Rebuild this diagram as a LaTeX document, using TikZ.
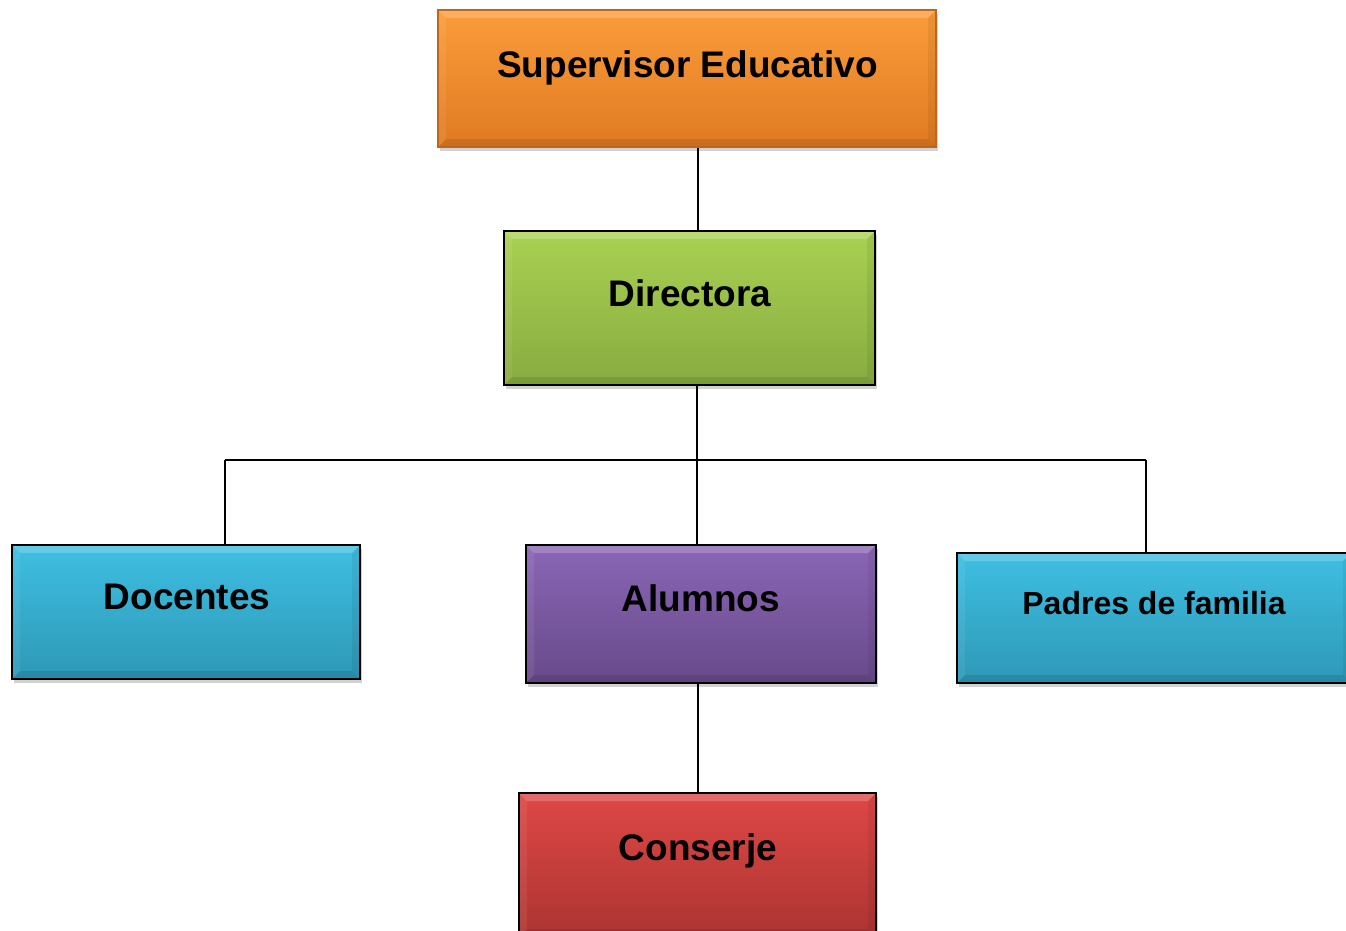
\documentclass[tikz,border=0pt]{standalone}
\usepackage{fontspec}
\setmainfont{Liberation Sans}
\usetikzlibrary{shadows}
\definecolor{orT}{HTML}{FA9C3A}\definecolor{orB}{HTML}{E07A22}\definecolor{orD}{HTML}{C0651C}
\definecolor{grT}{HTML}{A9D152}\definecolor{grB}{HTML}{88AB40}
\definecolor{cyT}{HTML}{3EBFE2}\definecolor{cyB}{HTML}{2E98B6}
\definecolor{puT}{HTML}{8A66B6}\definecolor{puB}{HTML}{684A8A}
\definecolor{reT}{HTML}{DE4846}\definecolor{reB}{HTML}{AC3431}
\tikzset{
  box/.style={rectangle, draw=black, line width=2.4pt, inner sep=0pt,
    drop shadow={opacity=0.35, shadow xshift=2pt, shadow yshift=-4pt},
    path picture={
      \fill[white,opacity=0.2] (path picture bounding box.north west) -- (path picture bounding box.north east)
        -- ([xshift=-8pt,yshift=-8pt]path picture bounding box.north east) -- ([xshift=8pt,yshift=-8pt]path picture bounding box.north west) -- cycle;
      \fill[black,opacity=0.1] (path picture bounding box.south west) -- (path picture bounding box.south east)
        -- ([xshift=-8pt,yshift=8pt]path picture bounding box.south east) -- ([xshift=8pt,yshift=8pt]path picture bounding box.south west) -- cycle;
      \fill[white,opacity=0.07] (path picture bounding box.north west) -- ([xshift=8pt,yshift=-8pt]path picture bounding box.north west)
        -- ([xshift=8pt,yshift=8pt]path picture bounding box.south west) -- (path picture bounding box.south west) -- cycle;
      \fill[black,opacity=0.06] (path picture bounding box.north east) -- ([xshift=-8pt,yshift=-8pt]path picture bounding box.north east)
        -- ([xshift=-8pt,yshift=8pt]path picture bounding box.south east) -- (path picture bounding box.south east) -- cycle;
    }},
  lbl/.style={anchor=base, inner sep=0pt, font=\bfseries\fontsize{37}{44}\selectfont},
  conn/.style={draw=black, line width=2pt}
}
\begin{document}
\begin{tikzpicture}[x=1pt,y=-1pt]
\useasboundingbox (0,0) rectangle (1346,930);
\clip (0,0) rectangle (1346,930);
\fill[white] (0,0) rectangle (1346,930);
% boxes
\node[box, draw=orD, line width=1.6pt, top color=orT, bottom color=orB, minimum width=498pt, minimum height=137pt] (sup) at (687,78.5) {};
\node[box, top color=grT, bottom color=grB, minimum width=371pt, minimum height=154pt] (dir) at (689.5,308) {};
\node[box, top color=cyT, bottom color=cyB, minimum width=348pt, minimum height=134pt] (doc) at (186,612) {};
\node[box, top color=puT, bottom color=puB, minimum width=350pt, minimum height=138pt] (alu) at (701,614) {};
\node[box, top color=cyT, bottom color=cyB, minimum width=394pt, minimum height=130pt] (pad) at (1154,618) {};
\node[box, top color=reT, bottom color=reB, minimum width=357pt, minimum height=144pt] (con) at (697.5,865) {};
% labels
\node[lbl] (tsup) at (687.5,77) {Supervisor Educativo};
\node[lbl] (tdir) at (690,306) {Directora};
\node[lbl] (tdoc) at (187,609) {Docentes};
\node[lbl] (talu) at (701,611) {Alumnos};
\node[lbl, font=\bfseries\fontsize{32}{38}\selectfont] (tpad) at (1154,614) {Padres de familia};
\node[lbl] (tcon) at (698,860) {Conserje};
% connectors
\coordinate (c1) at (698,0);
\coordinate (j) at (697,460);
\coordinate (jl) at (225,460);
\coordinate (jr) at (1146,460);
\coordinate (c2) at (698,0);
\draw[conn] (sup.south -| c1) -- (dir.north -| c1);
\draw[conn] (dir.south -| j) -- (j);
\draw[conn] (jl) -- (jr);
\draw[conn] (jl) -- (jl |- doc.north);
\draw[conn] (j) -- (j |- alu.north);
\draw[conn] (jr) -- (jr |- pad.north);
\draw[conn] (alu.south -| c2) -- (con.north -| c2);
\end{tikzpicture}
\end{document}
